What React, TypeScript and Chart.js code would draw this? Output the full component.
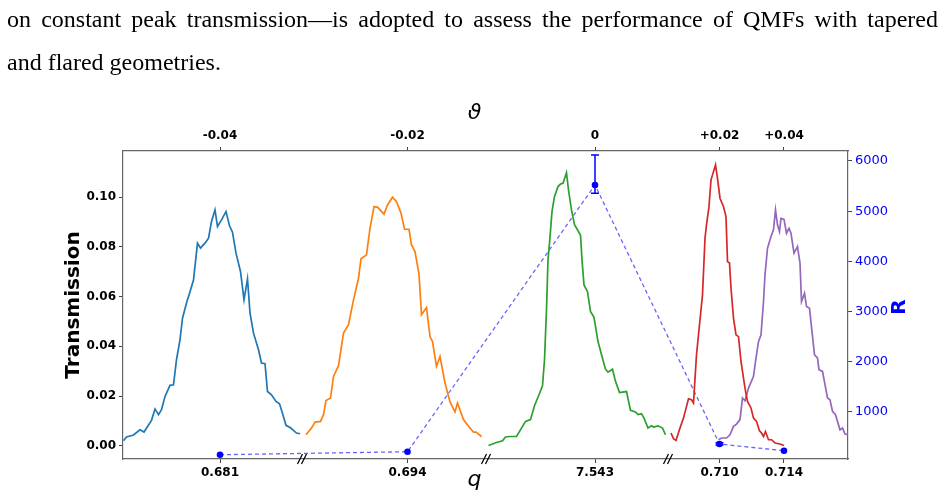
import React, { useEffect, useRef } from "react";
import { Chart, registerables } from "chart.js";

Chart.register(...registerables);

// Broken axis: q segments are placed on a continuous position axis (0..145)
const qTickPos = [19.4, 56.9, 94.4, 119.3, 132.2];
const qTickLabels = ["0.681", "0.694", "7.543", "0.710", "0.714"];
const thetaTickLabels = ["-0.04", "-0.02", "0", "+0.02", "+0.04"];
const breakPos = [35.8, 72.6, 109];

const transTicks = [0, 0.02, 0.04, 0.06, 0.08, 0.1];
const rTicks = [1000, 2000, 3000, 4000, 5000, 6000];

// Resolving power R at each q (with error bars)
const rValues = [143, 203, 5522, 357, 223];
const rErrLow = [143, 203, 5357, 335, 223];
const rErrHigh = [143, 203, 6120, 380, 223];

// Transmission curves, [position, transmission]
const curveA: number[][] = [
  [0.1, 0.002], [0.7, 0.0035], [2.1, 0.0043], [3.4, 0.0064], [4.2, 0.0055], [5.7, 0.0102],
  [6.4, 0.0148], [7.1, 0.0125], [7.7, 0.0145], [8.4, 0.0198], [9.4, 0.0243], [10.1, 0.0245],
  [10.7, 0.0346], [11.4, 0.0426], [11.9, 0.0513], [12.7, 0.0574], [13.4, 0.062], [14.1, 0.0667],
  [14.9, 0.0815], [15.5, 0.0795], [16.4, 0.0815], [17.1, 0.0835], [17.7, 0.0902], [18.4, 0.0949],
  [18.9, 0.0882], [19.7, 0.0909], [20.6, 0.0942], [21.3, 0.0885], [21.9, 0.0859], [22.6, 0.0775],
  [23.5, 0.0701], [24.2, 0.0587], [24.9, 0.0671], [25.4, 0.0534], [26.1, 0.0453], [27.1, 0.0386],
  [27.7, 0.0333], [28.4, 0.033], [28.9, 0.0218], [29.7, 0.0205], [30.6, 0.0178], [31.3, 0.0169],
  [31.9, 0.0131], [32.6, 0.0082], [33.5, 0.0072], [34.7, 0.0051], [35.4, 0.0048],
];
const curveB: number[][] = [
  [36.6, 0.0044], [37.7, 0.0071], [38.4, 0.0095], [39.5, 0.0098], [40.1, 0.0125], [40.6, 0.0182],
  [41.5, 0.0192], [42.1, 0.0279], [43.1, 0.0322], [44.1, 0.0453], [45.1, 0.0487], [46.1, 0.0587],
  [47.1, 0.0674], [47.6, 0.0752], [48.7, 0.0768], [49.4, 0.0875], [50.2, 0.0962], [50.9, 0.096],
  [52.2, 0.0932], [52.9, 0.0969], [53.9, 0.1], [54.7, 0.0982], [55.6, 0.0936], [56.3, 0.0871],
  [57.2, 0.0871], [57.7, 0.0808], [58.4, 0.0781], [59.2, 0.069], [59.7, 0.0527], [60.7, 0.0556],
  [61.4, 0.0439], [61.9, 0.0419], [62.7, 0.0319], [63.4, 0.0359], [64.4, 0.0252], [65.4, 0.0176],
  [66.4, 0.0136], [66.9, 0.0172], [68.1, 0.0105], [69.1, 0.0078], [70.1, 0.0055], [70.6, 0.0055],
  [71.7, 0.0037],
];
const curveC: number[][] = [
  [73.1, 0.0001], [74.7, 0.0013], [75.9, 0.002], [76.5, 0.0035], [77.3, 0.0037], [78.7, 0.0037],
  [79.7, 0.0071], [80.5, 0.0098], [81.5, 0.0105], [82.3, 0.0161], [83.2, 0.0205], [83.9, 0.0241],
  [84.3, 0.0346], [84.7, 0.0547], [85.0, 0.0748], [85.3, 0.0815], [85.8, 0.0942], [86.3, 0.1003],
  [87.0, 0.1043], [87.5, 0.1053], [88.0, 0.1056], [88.7, 0.1099], [89.1, 0.1029], [89.7, 0.0949],
  [90.3, 0.0889], [91.5, 0.0848], [91.8, 0.0748], [92.2, 0.0647], [92.9, 0.062], [93.5, 0.054],
  [94.2, 0.0517], [95.0, 0.0419], [95.8, 0.0359], [96.5, 0.0308], [97.0, 0.0296], [97.9, 0.0308],
  [98.5, 0.0259], [99.3, 0.0214], [100.7, 0.0218], [101.5, 0.0142], [102.5, 0.0136], [103.0, 0.0125],
  [103.7, 0.0129], [104.2, 0.0111], [105.0, 0.0071], [105.7, 0.008], [106.1, 0.0075], [107.0, 0.008],
  [107.9, 0.0071], [108.5, 0.0044],
];
const curveD: number[][] = [
  [109.6, 0.0051], [110.1, 0.0028], [110.6, 0.0021], [111.4, 0.0071], [112.1, 0.0111], [113.1, 0.0189],
  [113.7, 0.0185], [114.1, 0.0172], [114.7, 0.0366], [115.9, 0.0607], [116.4, 0.0835], [116.7, 0.0889],
  [117.2, 0.0962], [117.6, 0.107], [118.1, 0.1103], [118.5, 0.113], [118.9, 0.1076], [119.4, 0.0996],
  [120.1, 0.0962], [120.6, 0.0922], [120.9, 0.0741], [121.3, 0.0735], [121.6, 0.0634], [122.1, 0.0513],
  [122.6, 0.0446], [123.1, 0.0439], [123.6, 0.0339], [124.4, 0.0232], [124.9, 0.0178], [125.6, 0.0152],
  [126.1, 0.0111], [126.7, 0.0098], [127.3, 0.006], [127.7, 0.0051], [128.1, 0.0037], [128.5, 0.0057],
  [129.1, 0.0024], [129.7, 0.0024], [130.4, 0.0011], [131.4, 0.0007], [132.2, 0.0001],
];
const curveE: number[][] = [
  [119.1, 0.0024], [119.7, 0.0031], [120.7, 0.0031], [121.4, 0.0044], [122.1, 0.0078], [122.7, 0.0087],
  [123.4, 0.0105], [123.9, 0.0192], [124.4, 0.0181], [125.1, 0.0232], [126.1, 0.0279], [126.5, 0.0339],
  [127.1, 0.0419], [127.6, 0.0446], [128.1, 0.058], [128.4, 0.0688], [128.9, 0.0795], [129.6, 0.0842],
  [130.1, 0.0869], [130.5, 0.0949], [130.9, 0.0889], [131.3, 0.0862], [131.6, 0.0915], [132.2, 0.0911],
  [132.7, 0.0855], [133.2, 0.0875], [133.6, 0.0855], [134.2, 0.0775], [134.9, 0.0801], [135.4, 0.0735],
  [135.7, 0.058], [136.3, 0.0614], [136.7, 0.056], [137.3, 0.0553], [138.3, 0.0366], [138.9, 0.0353],
  [139.2, 0.0306], [139.9, 0.0299], [140.9, 0.0192], [141.4, 0.0185], [141.9, 0.0138], [142.5, 0.0125],
  [143.4, 0.0064], [143.9, 0.0071], [144.4, 0.0047], [145.1, 0.0044],
];

const curves = [curveA, curveB, curveC, curveD, curveE];
const curveColors = ["#1f77b4", "#ff7f0e", "#2ca02c", "#d62728", "#9467bd"];

const FONT = "'DejaVu Sans', sans-serif";

const extrasPlugin = {
  id: "extras",
  afterDatasetsDraw(chart: any) {
    const ctx = chart.ctx;
    const xs = chart.scales.x;
    const ys = chart.scales.y2;
    ctx.save();
    ctx.strokeStyle = "#0000ff";
    ctx.lineWidth = 1.5;
    for (let i = 0; i < rValues.length; i++) {
      if (rErrHigh[i] === rErrLow[i]) continue;
      const px = xs.getPixelForValue(qTickPos[i]);
      const y1 = ys.getPixelForValue(rErrLow[i]);
      const y2 = ys.getPixelForValue(rErrHigh[i]);
      ctx.beginPath();
      ctx.moveTo(px, y1);
      ctx.lineTo(px, y2);
      ctx.moveTo(px - 4, y1);
      ctx.lineTo(px + 4, y1);
      ctx.moveTo(px - 4, y2);
      ctx.lineTo(px + 4, y2);
      ctx.stroke();
    }
    ctx.restore();
  },
  afterDraw(chart: any) {
    const ctx = chart.ctx;
    const area = chart.chartArea;
    const xs = chart.scales.x;
    ctx.save();
    // break markers
    ctx.strokeStyle = "#000";
    ctx.lineWidth = 1.2;
    for (const b of breakPos) {
      const bx = xs.getPixelForValue(b);
      const by = area.bottom;
      for (const d of [-2, 2]) {
        ctx.beginPath();
        ctx.moveTo(bx + d - 2.5, by + 5);
        ctx.lineTo(bx + d + 2.5, by - 5);
        ctx.stroke();
      }
    }
    // axis titles
    const cx = (area.left + area.right) / 2 - 11;
    const cy = (area.top + area.bottom) / 2;
    ctx.fillStyle = "#000";
    ctx.textAlign = "center";
    ctx.textBaseline = "alphabetic";
    ctx.font = `oblique 22px ${FONT}`;
    ctx.fillText("ϑ", cx, area.top - 32);
    ctx.fillText("q", cx, area.bottom + 27);

    ctx.font = `bold 20px ${FONT}`;
    ctx.textBaseline = "middle";
    ctx.save();
    ctx.translate(area.left - 49, cy);
    ctx.rotate(-Math.PI / 2);
    ctx.fillText("Transmission", 0, 0);
    ctx.restore();
    ctx.save();
    ctx.fillStyle = "#0000ff";
    ctx.translate(area.right + 52, cy + 2);
    ctx.rotate(-Math.PI / 2);
    ctx.fillText("R", 0, 0);
    ctx.restore();
    ctx.restore();
  },
};

export default function App() {
  const ref = useRef<HTMLCanvasElement>(null);

  useEffect(() => {
    if (!ref.current) return;
    const datasets: any[] = curves.map((c, i) => ({
      type: "line",
      data: c.map(([x, y]) => ({ x, y })),
      borderColor: curveColors[i],
      borderWidth: 1.7,
      pointRadius: 0,
      tension: 0,
      xAxisID: "x",
      yAxisID: "y",
    }));
    datasets.push({
      type: "line",
      data: rValues.map((v, i) => ({ x: qTickPos[i], y: v })),
      borderColor: "rgba(0,0,255,0.6)",
      borderWidth: 1.3,
      borderDash: [4, 3],
      pointRadius: 3.3,
      pointBackgroundColor: "#0000ff",
      pointBorderColor: "#0000ff",
      pointBorderWidth: 0,
      tension: 0,
      xAxisID: "x",
      yAxisID: "y2",
    });

    const tickFontBold = { family: FONT, size: 12, weight: "bold" as const };
    const chart = new Chart(ref.current, {
      type: "line",
      data: { datasets },
      plugins: [extrasPlugin],
      options: {
        animation: false,
        responsive: false,
        devicePixelRatio: 1,
        layout: { padding: 0 },
        plugins: { legend: { display: false }, tooltip: { enabled: false } },
        scales: {
          x: {
            type: "linear",
            position: "bottom",
            min: 0,
            max: 145,
            afterBuildTicks: (s: any) => {
              s.ticks = qTickPos.map((v) => ({ value: v }));
            },
            afterFit: (s: any) => {
              s.height = 43;
            },
            ticks: {
              callback: (_v: any, i: number) => qTickLabels[i],
              font: tickFontBold,
              color: "#000",
              padding: 3,
              maxRotation: 0,
              autoSkip: false,
            },
            grid: { drawOnChartArea: false, tickLength: 4, tickColor: "#444", color: "#444" },
            border: { color: "#666", width: 1.2 },
          },
          x2: {
            type: "linear",
            position: "top",
            min: 0,
            max: 145,
            afterBuildTicks: (s: any) => {
              s.ticks = qTickPos.map((v) => ({ value: v }));
            },
            afterFit: (s: any) => {
              s.height = 151;
            },
            ticks: {
              callback: (_v: any, i: number) => thetaTickLabels[i],
              font: tickFontBold,
              color: "#000",
              padding: 4,
              maxRotation: 0,
              autoSkip: false,
            },
            grid: { drawOnChartArea: false, tickLength: 4, tickColor: "#444", color: "#444" },
            border: { color: "#666", width: 1.2 },
          },
          y: {
            type: "linear",
            position: "left",
            min: -0.00535,
            max: 0.1186,
            afterBuildTicks: (s: any) => {
              s.ticks = transTicks.map((v) => ({ value: v }));
            },
            afterFit: (s: any) => {
              s.width = 123;
            },
            ticks: {
              callback: (v: any) => Number(v).toFixed(2),
              font: tickFontBold,
              color: "#000",
              padding: 3,
            },
            grid: { drawOnChartArea: false, tickLength: 4, tickColor: "#444", color: "#444" },
            border: { color: "#666", width: 1.2 },
          },
          y2: {
            type: "linear",
            position: "right",
            min: 58,
            max: 6199,
            afterBuildTicks: (s: any) => {
              s.ticks = rTicks.map((v) => ({ value: v }));
            },
            afterFit: (s: any) => {
              s.width = 99;
            },
            ticks: {
              callback: (v: any) => String(v),
              font: { family: FONT, size: 13 },
              color: "#0000ff",
              padding: 3,
            },
            grid: { drawOnChartArea: false, tickLength: 4, tickColor: "#444", color: "#444" },
            border: { color: "#666", width: 1.2 },
          },
        },
      },
    } as any);
    return () => chart.destroy();
  }, []);

  const textStyle: React.CSSProperties = {
    position: "absolute",
    left: 7,
    width: 931,
    fontFamily: "'Liberation Serif', serif",
    fontSize: 24,
    lineHeight: "24px",
    color: "#000",
  };

  return (
    <div
      style={{
        position: "fixed",
        left: 0,
        top: 0,
        width: 947,
        height: 502,
        background: "#fff",
        overflow: "hidden",
      }}
    >
      <canvas
        ref={ref}
        width={947}
        height={502}
        style={{ position: "absolute", left: 0, top: 0, width: 947, height: 502 }}
      />
      <div style={{ ...textStyle, top: 7, textAlign: "justify", textAlignLast: "justify" }}>
        on constant peak transmission—is adopted to assess the performance of QMFs with tapered
      </div>
      <div style={{ ...textStyle, top: 50 }}>and flared geometries.</div>
    </div>
  );
}
